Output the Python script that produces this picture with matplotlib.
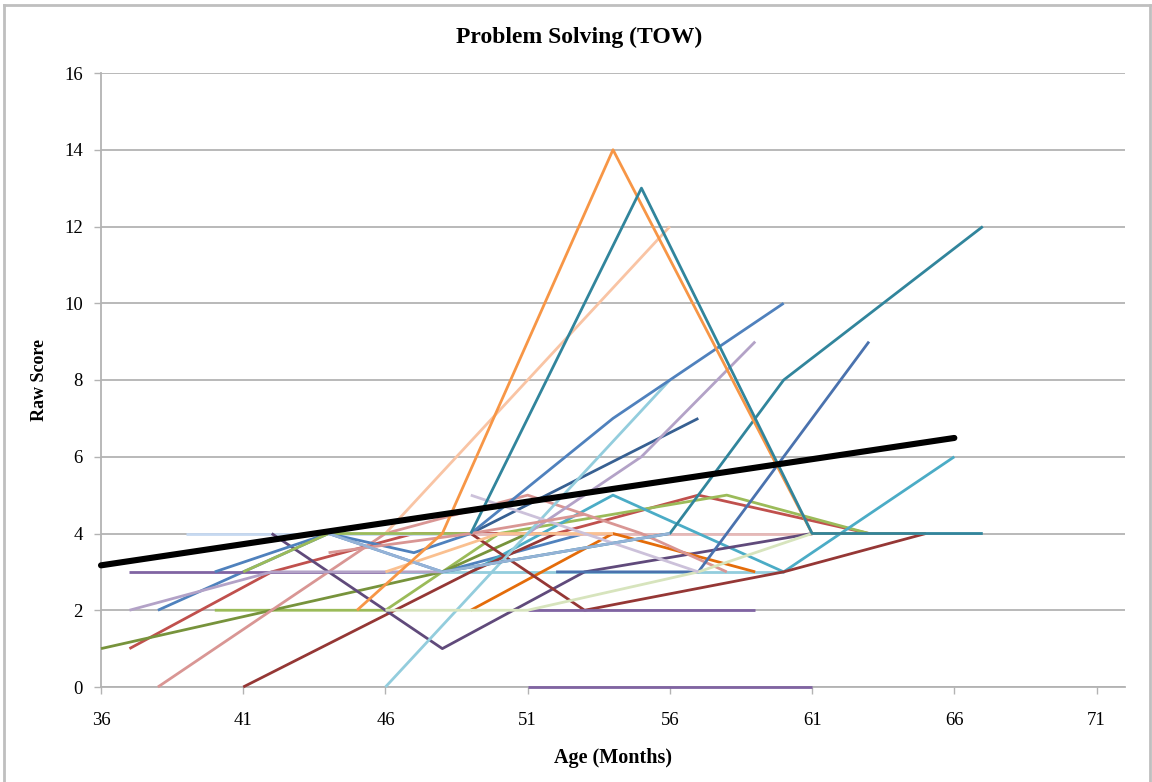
import matplotlib
matplotlib.use("Agg")
import matplotlib.pyplot as plt
from matplotlib.lines import Line2D

plt.rcParams['font.family'] = ['Liberation Serif', 'DejaVu Serif']

# ---- data: (age in months, raw score) per child ----
s_blue_a_x = [38, 44, 48, 53]
s_blue_a_y = [2, 4, 3, 4]
s_red_a_x = [37, 42, 47, 52, 57, 63]
s_red_a_y = [1, 3, 4, 4, 5, 4]
s_green_a_x = [40, 46, 50, 58, 63]
s_green_a_y = [2, 2, 4, 5, 4]
s_purple_a_x = [37, 48]
s_purple_a_y = [3, 3]
s_aqua_a_x = [49, 54, 60, 66]
s_aqua_a_y = [3, 5, 3, 6]
s_orange_a_x = [45, 48, 54, 61, 65]
s_orange_a_y = [2, 4, 14, 4, 4]
s_dblue_a_x = [49, 57]
s_dblue_a_y = [4, 7]
s_dred_a_x = [41, 49, 52]
s_dred_a_y = [0, 3, 4]
s_olive_a_x = [36, 48, 51]
s_olive_a_y = [1, 3, 4]
s_dpurple_a_x = [42, 48, 53, 61]
s_dpurple_a_y = [4, 1, 3, 4]
s_teal_a_x = [49, 55, 61, 67]
s_teal_a_y = [4, 13, 4, 4]
s_dorange_a_x = [49, 54, 59]
s_dorange_a_y = [2, 4, 3]
s_lblue_a_x = [39, 46, 52]
s_lblue_a_y = [4, 4, 4]
s_rose_a_x = [38, 46, 51, 55, 58]
s_rose_a_y = [0, 4, 5, 4, 3]
s_lav_a_x = [37, 42, 48]
s_lav_a_y = [2, 3, 3]
s_blue_b_x = [40, 44, 47, 49]
s_blue_b_y = [3, 4, 3.5, 4]
s_dred_b_x = [49, 53, 60, 65]
s_dred_b_y = [4, 2, 3, 4]
s_purple_b_x = [51, 59]
s_purple_b_y = [2, 2]
s_aqua_b_x = [46, 52, 60]
s_aqua_b_y = [3, 3, 3]
s_lorange_a_x = [46, 50, 54]
s_lorange_a_y = [3, 4, 4]
s_lav_b_x = [51, 55, 59]
s_lav_b_y = [4, 6, 9]
s_laqua_a_x = [46, 56]
s_laqua_a_y = [0, 8]
s_peach_a_x = [46, 56]
s_peach_a_y = [4, 12]
s_mblue_a_x = [49, 54, 60]
s_mblue_a_y = [4, 7, 10]
s_sblue_a_x = [52, 57, 63]
s_sblue_a_y = [3, 3, 9]
s_pgreen_a_x = [46, 51, 57, 61]
s_pgreen_a_y = [2, 2, 3, 4]
s_green_b_x = [41, 44, 49]
s_green_b_y = [3, 4, 4]
s_purple_c_x = [51, 61]
s_purple_c_y = [0, 0]
s_teal_b_x = [48, 52, 56, 60, 67]
s_teal_b_y = [3, 3.5, 4, 8, 12]
s_plav_a_x = [49, 57]
s_plav_a_y = [5, 3]
s_prose_a_x = [49, 54, 61]
s_prose_a_y = [4, 4, 4]
s_lred_a_x = [44, 49, 53]
s_lred_a_y = [3.5, 4, 4.5]
s_cblue_a_x = [44, 48, 52, 56]
s_cblue_a_y = [4, 3, 3.5, 4]

trend_x = [36, 66]
trend_y = [3.17, 6.49]

series = [
    (s_blue_a_x, s_blue_a_y, '#4F81BD'),
    (s_red_a_x, s_red_a_y, '#C0504D'),
    (s_green_a_x, s_green_a_y, '#9BBB59'),
    (s_purple_a_x, s_purple_a_y, '#8064A2'),
    (s_aqua_b_x, s_aqua_b_y, '#93CDDD'),
    (s_lblue_a_x, s_lblue_a_y, '#C6D9F1'),
    (s_prose_a_x, s_prose_a_y, '#E6B9B8'),
    (s_aqua_a_x, s_aqua_a_y, '#4BACC6'),
    (s_dblue_a_x, s_dblue_a_y, '#376092'),
    (s_dred_a_x, s_dred_a_y, '#953735'),
    (s_olive_a_x, s_olive_a_y, '#77933C'),
    (s_dpurple_a_x, s_dpurple_a_y, '#604A7B'),
    (s_dorange_a_x, s_dorange_a_y, '#E46C0A'),
    (s_rose_a_x, s_rose_a_y, '#D99694'),
    (s_lav_a_x, s_lav_a_y, '#B3A2C7'),
    (s_blue_b_x, s_blue_b_y, '#4F81BD'),
    (s_dred_b_x, s_dred_b_y, '#953735'),
    (s_purple_b_x, s_purple_b_y, '#8064A2'),
    (s_lorange_a_x, s_lorange_a_y, '#FAC090'),
    (s_lav_b_x, s_lav_b_y, '#B3A2C7'),
    (s_laqua_a_x, s_laqua_a_y, '#93CDDD'),
    (s_peach_a_x, s_peach_a_y, '#F9C4A4'),
    (s_mblue_a_x, s_mblue_a_y, '#4F81BD'),
    (s_sblue_a_x, s_sblue_a_y, '#4A72AE'),
    (s_pgreen_a_x, s_pgreen_a_y, '#D7E4BD'),
    (s_green_b_x, s_green_b_y, '#9BBB59'),
    (s_purple_c_x, s_purple_c_y, '#8064A2'),
    (s_teal_b_x, s_teal_b_y, '#31859C'),
    (s_plav_a_x, s_plav_a_y, '#CCC1DA'),
    (s_lred_a_x, s_lred_a_y, '#D99694'),
    (s_cblue_a_x, s_cblue_a_y, '#95B3D7'),
    (s_orange_a_x, s_orange_a_y, '#F79646'),
    (s_teal_a_x, s_teal_a_y, '#31859C'),
]

fig = plt.figure(figsize=(11.52, 7.82), dpi=100)
ax = fig.add_axes([101/1152, 1-687/782, (1125-101)/1152, (687-73)/782])

for xs, ys, c in series:
    ax.plot(xs, ys, color=c, lw=2.0, solid_capstyle='butt', zorder=3, clip_on=False)
ax.plot(trend_x, trend_y, color='black', lw=4.4, solid_capstyle='round', zorder=4, clip_on=False)

ax.set_xlim(36, 72)
ax.set_ylim(0, 16)
ax.set_xticks(list(range(36, 72, 5)))
ax.set_yticks(list(range(0, 17, 2)))
ax.grid(axis='y', color='#B3B3B3', lw=1.3, zorder=1)
ax.set_axisbelow(True)
for sp in ['top', 'right']:
    ax.spines[sp].set_visible(False)
for sp in ['left', 'bottom']:
    ax.spines[sp].set_color('#B3B3B3')
    ax.spines[sp].set_linewidth(1.3)
ax.tick_params(axis='both', direction='out', color='#B3B3B3', width=1.0, length=5,
               labelsize=13.5, labelcolor='black')
ax.tick_params(axis='x', pad=13)
ax.tick_params(axis='y', pad=8)

fig.text(0.503, 1-37/782, 'Problem Solving (TOW)', fontsize=17, fontweight='bold',
         ha='center', va='center')
ax.set_xlabel('Age (Months)', fontsize=14.5, fontweight='bold', labelpad=14)
ax.set_ylabel('Raw Score', fontsize=13, fontweight='bold', labelpad=12)

# outer chart frame
fig.add_artist(Line2D([4/1152, 4/1152], [0, 1-5/782], color='#BFBFBF', lw=2, transform=fig.transFigure))
fig.add_artist(Line2D([4/1152, 1150/1152], [1-5/782, 1-5/782], color='#BFBFBF', lw=2, transform=fig.transFigure))
fig.add_artist(Line2D([1150/1152, 1150/1152], [0, 1-5/782], color='#BFBFBF', lw=2, transform=fig.transFigure))

fig.savefig('out.png', dpi=100)
